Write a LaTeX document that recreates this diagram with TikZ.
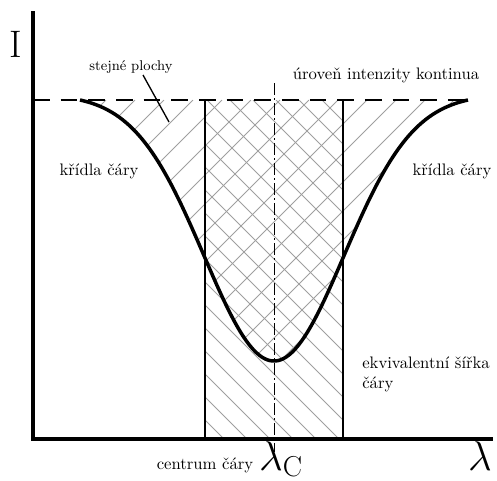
\documentclass[tikz,border=0pt]{standalone}
\usepackage{tikz}
\usetikzlibrary{positioning,calc}

\begin{document}
\begin{tikzpicture}[
    x=0.6pt, y=-0.6pt,
    declare function={prof(\x)=100+266.6*(exp(-((\x-274)/98.7)^2)-0.021);},
    axis/.style={line width=2.4pt},
    profile/.style={line width=2.1pt},
    edgeline/.style={line width=1.5pt},
    contline/.style={line width=1.1pt, dash pattern=on 10pt off 6.6pt},
    centreline/.style={line width=0.5pt, dash pattern=on 7pt off 2pt on 1pt off 2pt},
    hatch/.style={line width=0.45pt, gray!75},
    leader/.style={line width=0.8pt},
    txt/.style={inner sep=0pt, font=\normalsize},
    smalltxt/.style={inner sep=0pt, font=\fontsize{8.5}{10}\selectfont},
    bigsym/.style={inner sep=0pt, font=\fontsize{23}{26}\selectfont}
]
\useasboundingbox (0,0) rectangle (497,480);

% Hatching between profile and continuum
\begin{scope}
    \clip plot[domain=80:468, samples=120] (\x,{prof(\x)}) -- cycle;
    \foreach \c in {148,177,...,844}
        \draw[hatch] (\c-100,100) -- (\c-400,400);
\end{scope}

% Hatching of the equivalent width box
\begin{scope}
    \clip (205,100) rectangle (343,439);
    \foreach \c in {-238,-215,...,245}
        \draw[hatch] (\c+100,100) -- (\c+439,439);
\end{scope}

% Continuum level and line centre
\coordinate (cont-l) at (33,100);
\coordinate (cont-r) at (468,100);
\draw[contline] (cont-l) -- (cont-r);
\coordinate (centre-top) at (274,83);
\coordinate (centre-bot) at (274,452);
\draw[centreline] (centre-top) -- (centre-bot);

% Equivalent width box
\coordinate (box-tl) at (205,100);
\coordinate (box-bl) at (205,439);
\coordinate (box-tr) at (343,100);
\coordinate (box-br) at (343,439);
\draw[edgeline] (box-tl) -- (box-bl);
\draw[edgeline] (box-tr) -- (box-br);

% Line profile
\draw[profile] plot[domain=80:468, samples=120] (\x,{prof(\x)});

% Axes
\coordinate (origin) at (33,439);
\draw[axis] (33,11) -- (origin) -- (493,439);

% Labels
\node[bigsym] (ilabel) at (16,44) {I};
\node[smalltxt] (plochy) at (131,67) {stejné plochy};
\node[txt] (kontinuum) at (386,75) {úroveň intenzity kontinua};
\node[txt] (kridla-l) at (99,171) {křídla čáry};
\node[txt] (kridla-r) at (452,171) {křídla čáry};
\node[txt, align=left, anchor=base west] (ekviv) at (362,388) {ekvivalentní šířka\\čáry};
\node[txt] (centrum) at (205,465) {centrum čáry};
\node[bigsym, font=\fontsize{24}{28}\selectfont] (lamc) at (281,459) {$\lambda_{\mathrm{C}}$};
\node[bigsym, font=\fontsize{24}{28}\selectfont] (lam) at (480,456) {$\lambda$};

% Leader to the equal areas
\coordinate (plochy-start) at (143,75);
\coordinate (plochy-tip) at (169,122);
\draw[leader] (plochy-start) -- (plochy-tip);

\end{tikzpicture}
\end{document}
